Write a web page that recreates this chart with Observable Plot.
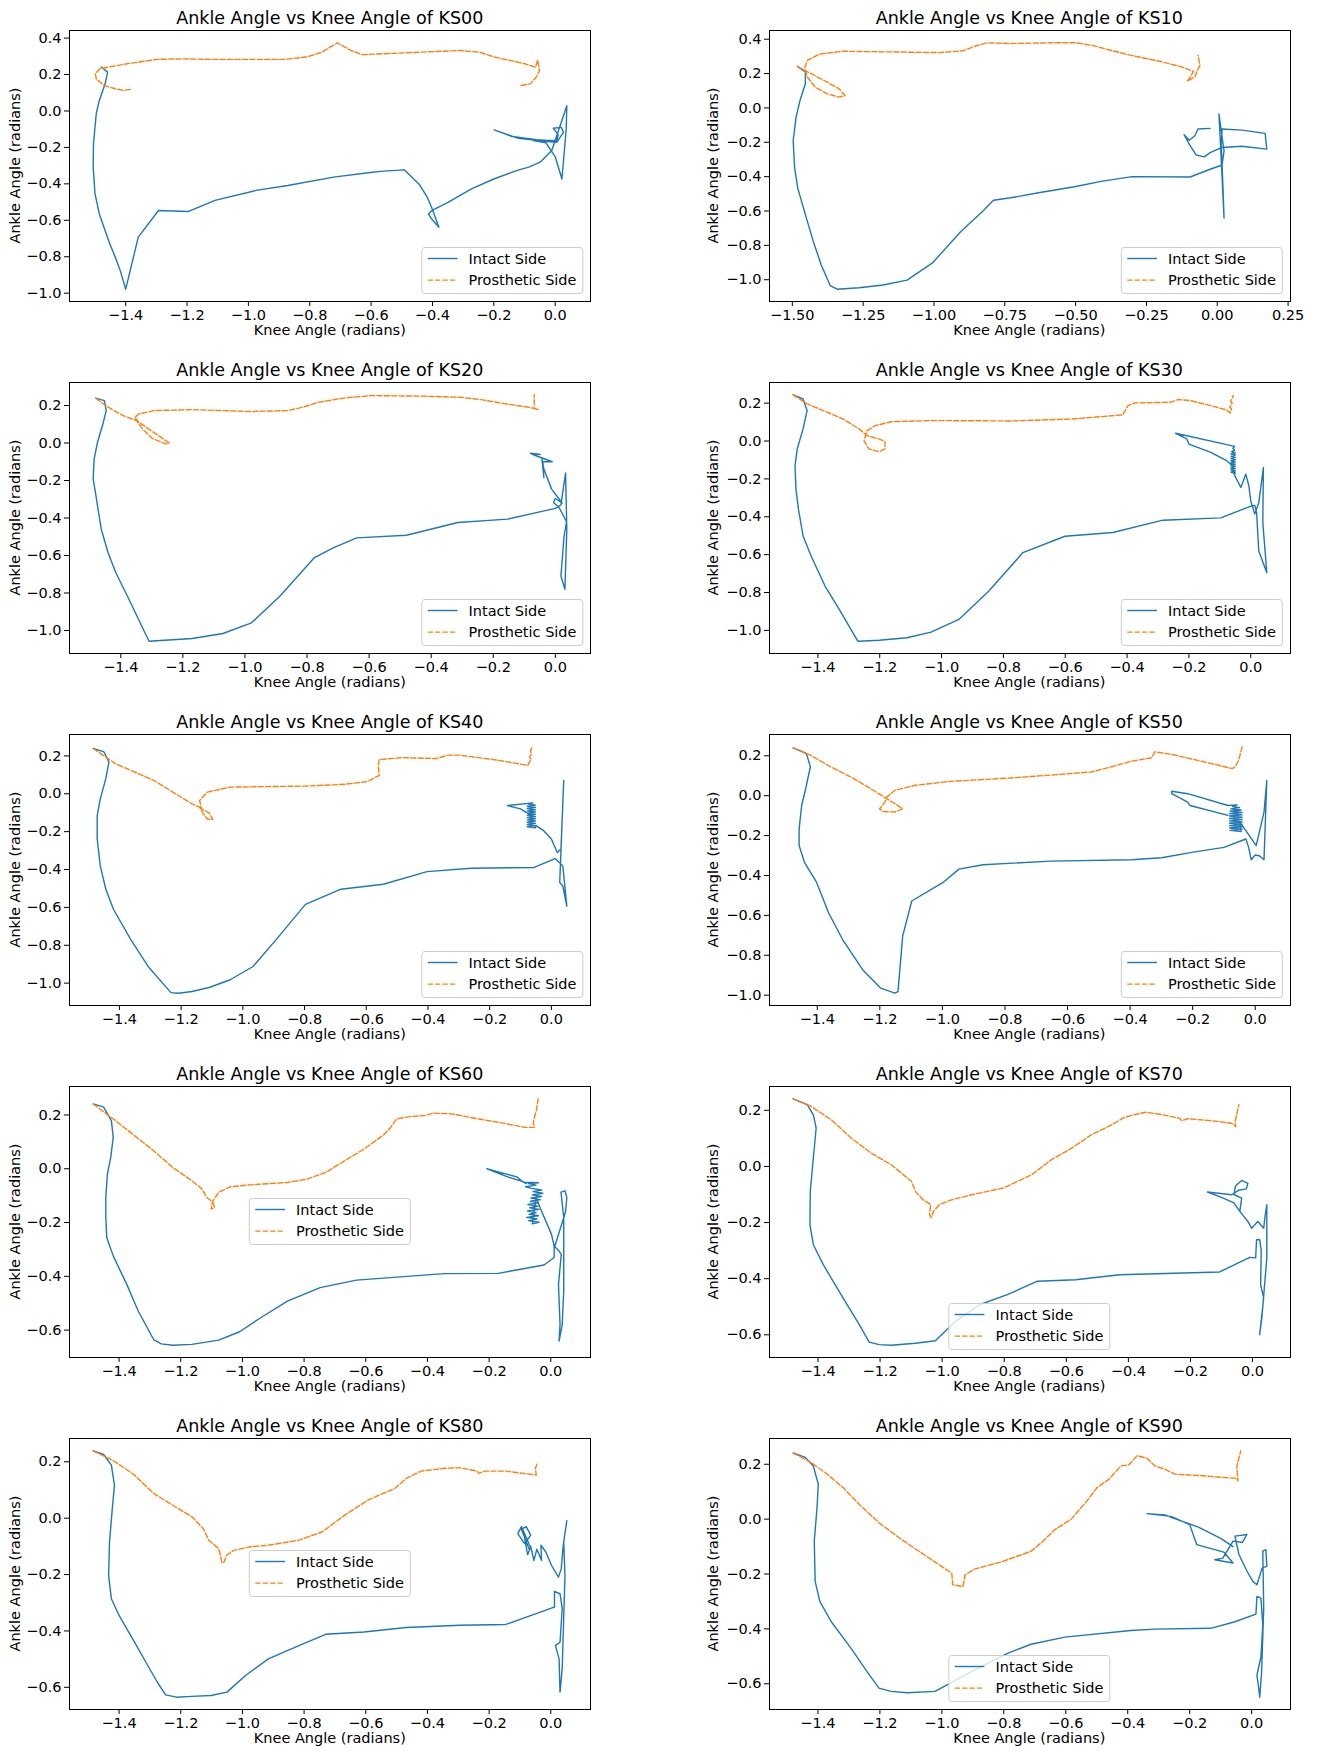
<!DOCTYPE html>
<html>
<head>
<meta charset="utf-8">
<script src="https://cdn.jsdelivr.net/npm/d3@7"></script>
<script src="https://cdn.jsdelivr.net/npm/@observablehq/plot@0.6"></script>
<style>
  html, body { margin: 0; padding: 0; background: #fff; }
  #page { position: relative; width: 1317px; height: 1751px; background: #fff; overflow: hidden; }
  #page > svg { position: absolute; }
</style>
</head>
<body>
<div id="page"></div>
<script>
// ---------------- data (knee angle, ankle angle) ----------------
const subjects = ["KS00","KS10","KS20","KS30","KS40","KS50","KS60","KS70","KS80","KS90"];
const seriesNames = ["Intact Side","Prosthetic Side"];
const xTicksA = [-1.4,-1.2,-1.0,-0.8,-0.6,-0.4,-0.2,0.0];
const xTicksB = [-1.5,-1.25,-1.0,-0.75,-0.5,-0.25,0.0,0.25];
const yTicksA = [-1.0,-0.8,-0.6,-0.4,-0.2,0.0,0.2,0.4];
const yTicksB = [-1.0,-0.8,-0.6,-0.4,-0.2,0.0,0.2];
const yTicksC = [-0.6,-0.4,-0.2,0.0,0.2];
const legendLocs = ["lr","lr","lr","lr","lr","lr","c","lc","c","lc"];

const ks00Intact = [[-1.480,0.241],[-1.459,0.213],[-1.467,0.149],[-1.486,0.058],[-1.496,-0.015],[-1.505,-0.180],[-1.506,-0.308],[-1.500,-0.455],[-1.486,-0.565],[-1.452,-0.729],[-1.434,-0.802],[-1.418,-0.875],[-1.400,-0.978],[-1.359,-0.692],[-1.293,-0.546],[-1.197,-0.552],[-1.109,-0.491],[-0.975,-0.436],[-0.872,-0.409],[-0.722,-0.363],[-0.610,-0.339],[-0.560,-0.330],[-0.492,-0.323],[-0.442,-0.405],[-0.417,-0.473],[-0.401,-0.537],[-0.379,-0.638],[-0.404,-0.590],[-0.413,-0.565],[-0.401,-0.545],[-0.348,-0.500],[-0.273,-0.427],[-0.198,-0.372],[-0.124,-0.326],[-0.086,-0.308],[-0.049,-0.281],[-0.011,-0.217],[0.038,0.029],[0.036,-0.100],[0.022,-0.373],[0.000,-0.250],[-0.030,-0.175],[-0.071,-0.163],[0.005,-0.172],[0.027,-0.117],[0.020,-0.090],[-0.006,-0.095],[0.010,-0.130],[0.005,-0.165],[-0.060,-0.158],[-0.140,-0.140],[-0.199,-0.104],[-0.120,-0.150],[-0.040,-0.165],[0.010,-0.160]];
const ks00Prosthetic = [[-0.111,0.140],[-0.080,0.150],[-0.060,0.190],[-0.051,0.222],[-0.057,0.280],[-0.064,0.240],[-0.099,0.259],[-0.198,0.296],[-0.248,0.323],[-0.311,0.332],[-0.435,0.323],[-0.560,0.314],[-0.629,0.309],[-0.666,0.332],[-0.710,0.374],[-0.760,0.323],[-0.810,0.296],[-0.885,0.283],[-0.997,0.283],[-1.109,0.283],[-1.222,0.286],[-1.297,0.283],[-1.396,0.259],[-1.484,0.232],[-1.499,0.204],[-1.496,0.177],[-1.471,0.140],[-1.434,0.122],[-1.409,0.113],[-1.378,0.120]];

const ks10Intact = [[-1.482,0.242],[-1.454,0.209],[-1.454,0.141],[-1.473,0.043],[-1.487,-0.055],[-1.497,-0.191],[-1.492,-0.348],[-1.481,-0.465],[-1.454,-0.621],[-1.426,-0.777],[-1.398,-0.914],[-1.366,-1.035],[-1.342,-1.055],[-1.264,-1.047],[-1.180,-1.031],[-1.095,-1.002],[-1.004,-0.900],[-0.905,-0.719],[-0.828,-0.602],[-0.790,-0.537],[-0.729,-0.523],[-0.631,-0.494],[-0.504,-0.459],[-0.405,-0.426],[-0.300,-0.400],[-0.096,-0.402],[-0.025,-0.357],[0.017,-0.332],[0.024,-0.250],[0.006,-0.035],[0.014,-0.300],[0.024,-0.641],[0.020,-0.450],[0.014,-0.211],[0.017,-0.123],[0.087,-0.129],[0.169,-0.148],[0.175,-0.240],[0.087,-0.223],[0.017,-0.230],[-0.025,-0.260],[-0.046,-0.285],[-0.075,-0.273],[-0.099,-0.211],[-0.117,-0.156],[-0.099,-0.188],[-0.079,-0.162],[-0.068,-0.123],[-0.025,-0.119]];
const ks10Prosthetic = [[-1.482,0.242],[-1.433,0.199],[-1.377,0.150],[-1.335,0.111],[-1.314,0.072],[-1.335,0.063],[-1.377,0.082],[-1.419,0.121],[-1.447,0.180],[-1.457,0.229],[-1.447,0.277],[-1.405,0.313],[-1.321,0.330],[-1.152,0.326],[-0.983,0.322],[-0.898,0.332],[-0.856,0.359],[-0.814,0.379],[-0.729,0.375],[-0.588,0.379],[-0.497,0.379],[-0.434,0.361],[-0.377,0.336],[-0.307,0.307],[-0.194,0.268],[-0.124,0.238],[-0.084,0.213],[-0.099,0.170],[-0.107,0.156],[-0.079,0.180],[-0.070,0.219],[-0.061,0.248],[-0.068,0.307]];

const ks20Intact = [[-1.481,0.239],[-1.453,0.226],[-1.447,0.173],[-1.459,0.093],[-1.475,0.004],[-1.486,-0.086],[-1.489,-0.193],[-1.480,-0.282],[-1.463,-0.460],[-1.441,-0.585],[-1.416,-0.692],[-1.379,-0.816],[-1.309,-1.057],[-1.170,-1.043],[-1.071,-1.016],[-0.979,-0.959],[-0.887,-0.816],[-0.776,-0.611],[-0.714,-0.558],[-0.640,-0.506],[-0.480,-0.492],[-0.314,-0.424],[-0.154,-0.406],[0.000,-0.349],[0.018,-0.330],[0.033,-0.160],[0.037,-0.460],[0.031,-0.780],[0.018,-0.709],[0.028,-0.500],[0.036,-0.420],[0.012,-0.344],[-0.006,-0.317],[0.000,-0.296],[0.022,-0.320],[-0.012,-0.246],[-0.037,-0.139],[-0.043,-0.086],[-0.037,-0.184],[-0.040,-0.100],[-0.010,-0.100],[-0.062,-0.068],[-0.080,-0.055],[-0.049,-0.061]];
const ks20Prosthetic = [[-1.481,0.239],[-1.441,0.191],[-1.392,0.146],[-1.349,0.119],[-1.330,0.075],[-1.299,0.025],[-1.256,-0.005],[-1.244,0.000],[-1.262,0.021],[-1.311,0.075],[-1.342,0.111],[-1.355,0.137],[-1.342,0.155],[-1.293,0.173],[-1.170,0.178],[-0.985,0.168],[-0.862,0.173],[-0.813,0.191],[-0.764,0.217],[-0.677,0.241],[-0.591,0.253],[-0.431,0.250],[-0.308,0.244],[-0.234,0.230],[-0.160,0.209],[-0.086,0.191],[-0.055,0.178],[-0.068,0.185],[-0.068,0.257]];

const ks30Intact = [[-1.480,0.244],[-1.448,0.222],[-1.435,0.161],[-1.448,0.064],[-1.467,-0.042],[-1.474,-0.131],[-1.471,-0.254],[-1.463,-0.360],[-1.448,-0.501],[-1.422,-0.607],[-1.377,-0.766],[-1.331,-0.889],[-1.271,-1.057],[-1.202,-1.052],[-1.112,-1.039],[-1.034,-1.009],[-0.944,-0.942],[-0.847,-0.792],[-0.737,-0.589],[-0.601,-0.503],[-0.446,-0.483],[-0.284,-0.418],[-0.097,-0.406],[-0.003,-0.346],[0.013,-0.340],[0.019,-0.378],[0.026,-0.581],[0.052,-0.695],[0.039,-0.431],[0.041,-0.139],[0.026,-0.325],[0.013,-0.386],[0.000,-0.316],[-0.006,-0.236],[-0.016,-0.175],[-0.032,-0.245],[-0.049,-0.192],[-0.062,-0.148],[-0.050,-0.170],[-0.064,-0.164],[-0.050,-0.158],[-0.064,-0.152],[-0.050,-0.146],[-0.064,-0.140],[-0.050,-0.134],[-0.064,-0.128],[-0.050,-0.122],[-0.064,-0.116],[-0.050,-0.110],[-0.064,-0.104],[-0.050,-0.098],[-0.064,-0.092],[-0.050,-0.086],[-0.064,-0.080],[-0.050,-0.074],[-0.064,-0.068],[-0.050,-0.062],[-0.062,-0.056],[-0.052,-0.048],[-0.058,-0.038],[-0.052,-0.028],[-0.243,0.041],[-0.207,0.011],[-0.200,-0.016],[-0.129,-0.060],[-0.078,-0.104],[-0.058,-0.131]];
const ks30Prosthetic = [[-1.480,0.244],[-1.435,0.196],[-1.383,0.161],[-1.318,0.116],[-1.267,0.064],[-1.241,0.028],[-1.202,0.011],[-1.183,-0.004],[-1.183,-0.042],[-1.202,-0.056],[-1.235,-0.042],[-1.251,0.002],[-1.241,0.055],[-1.215,0.081],[-1.163,0.102],[-1.034,0.108],[-0.776,0.106],[-0.582,0.116],[-0.414,0.138],[-0.397,0.187],[-0.375,0.201],[-0.259,0.205],[-0.235,0.219],[-0.194,0.213],[-0.129,0.187],[-0.078,0.164],[-0.067,0.148],[-0.062,0.170],[-0.068,0.180],[-0.060,0.200],[-0.065,0.210],[-0.056,0.240]];

const ks40Intact = [[-1.485,0.239],[-1.450,0.221],[-1.434,0.168],[-1.444,0.080],[-1.462,-0.027],[-1.472,-0.115],[-1.472,-0.239],[-1.462,-0.381],[-1.444,-0.504],[-1.419,-0.611],[-1.363,-0.770],[-1.307,-0.912],[-1.233,-1.050],[-1.208,-1.053],[-1.165,-1.044],[-1.109,-1.023],[-1.041,-0.982],[-0.967,-0.912],[-0.892,-0.770],[-0.797,-0.584],[-0.682,-0.504],[-0.545,-0.478],[-0.403,-0.411],[-0.260,-0.393],[-0.056,-0.389],[0.012,-0.342],[0.037,-0.381],[0.050,-0.593],[0.037,-0.487],[0.027,-0.469],[0.040,0.071],[0.031,-0.292],[0.019,-0.310],[0.000,-0.239],[-0.025,-0.195],[-0.050,-0.168],[-0.052,-0.180],[-0.078,-0.174],[-0.052,-0.168],[-0.078,-0.162],[-0.052,-0.156],[-0.078,-0.150],[-0.052,-0.144],[-0.078,-0.138],[-0.052,-0.132],[-0.078,-0.126],[-0.052,-0.120],[-0.078,-0.114],[-0.052,-0.108],[-0.078,-0.102],[-0.052,-0.096],[-0.078,-0.090],[-0.052,-0.084],[-0.078,-0.078],[-0.052,-0.072],[-0.078,-0.066],[-0.052,-0.060],[-0.074,-0.054],[-0.060,-0.048],[-0.143,-0.062],[-0.100,-0.080],[-0.070,-0.110]];
const ks40Prosthetic = [[-1.485,0.239],[-1.413,0.159],[-1.351,0.115],[-1.289,0.071],[-1.227,0.009],[-1.165,-0.053],[-1.140,-0.071],[-1.128,-0.106],[-1.115,-0.133],[-1.097,-0.136],[-1.109,-0.101],[-1.134,-0.080],[-1.140,-0.035],[-1.115,0.009],[-1.041,0.035],[-0.793,0.041],[-0.669,0.050],[-0.595,0.065],[-0.558,0.097],[-0.561,0.150],[-0.558,0.181],[-0.483,0.191],[-0.372,0.186],[-0.335,0.204],[-0.297,0.204],[-0.173,0.177],[-0.077,0.150],[-0.070,0.170],[-0.066,0.180],[-0.071,0.195],[-0.064,0.210],[-0.068,0.225],[-0.062,0.248]];

const ks50Intact = [[-1.477,0.240],[-1.435,0.212],[-1.422,0.145],[-1.437,0.035],[-1.450,-0.049],[-1.458,-0.166],[-1.458,-0.250],[-1.441,-0.334],[-1.402,-0.435],[-1.364,-0.587],[-1.319,-0.721],[-1.255,-0.872],[-1.197,-0.965],[-1.152,-0.990],[-1.142,-0.982],[-1.127,-0.704],[-1.098,-0.528],[-0.998,-0.435],[-0.947,-0.368],[-0.870,-0.346],[-0.652,-0.328],[-0.395,-0.321],[-0.299,-0.311],[-0.203,-0.284],[-0.100,-0.259],[-0.030,-0.217],[-0.021,-0.259],[-0.013,-0.321],[0.000,-0.297],[0.013,-0.301],[0.028,-0.321],[0.037,0.077],[0.028,-0.082],[0.003,-0.250],[-0.030,-0.175],[-0.049,-0.133],[-0.045,-0.180],[-0.080,-0.174],[-0.042,-0.168],[-0.082,-0.162],[-0.042,-0.156],[-0.082,-0.150],[-0.042,-0.144],[-0.082,-0.138],[-0.042,-0.132],[-0.082,-0.126],[-0.042,-0.120],[-0.082,-0.114],[-0.042,-0.108],[-0.082,-0.102],[-0.042,-0.096],[-0.082,-0.090],[-0.042,-0.084],[-0.080,-0.078],[-0.045,-0.072],[-0.078,-0.066],[-0.050,-0.060],[-0.072,-0.054],[-0.058,-0.046],[-0.087,-0.049],[-0.216,0.010],[-0.267,0.022],[-0.267,0.010],[-0.216,-0.032],[-0.209,-0.049],[-0.087,-0.099]];
const ks50Prosthetic = [[-1.477,0.240],[-1.422,0.203],[-1.357,0.145],[-1.293,0.094],[-1.229,0.035],[-1.178,-0.015],[-1.152,-0.040],[-1.127,-0.066],[-1.152,-0.082],[-1.190,-0.079],[-1.201,-0.066],[-1.184,-0.032],[-1.178,-0.007],[-1.152,0.027],[-1.088,0.052],[-0.973,0.072],[-0.780,0.089],[-0.588,0.111],[-0.524,0.119],[-0.459,0.145],[-0.395,0.173],[-0.331,0.190],[-0.321,0.220],[-0.267,0.207],[-0.164,0.170],[-0.074,0.136],[-0.064,0.145],[-0.055,0.170],[-0.050,0.195],[-0.046,0.220],[-0.042,0.245]];

const ks60Intact = [[-1.484,0.241],[-1.450,0.229],[-1.425,0.179],[-1.419,0.117],[-1.427,0.042],[-1.438,-0.020],[-1.443,-0.107],[-1.443,-0.181],[-1.440,-0.256],[-1.419,-0.324],[-1.375,-0.430],[-1.338,-0.529],[-1.288,-0.635],[-1.263,-0.651],[-1.226,-0.656],[-1.164,-0.653],[-1.077,-0.637],[-1.009,-0.606],[-0.941,-0.554],[-0.854,-0.492],[-0.748,-0.442],[-0.630,-0.414],[-0.345,-0.390],[-0.171,-0.389],[-0.022,-0.358],[0.011,-0.330],[0.011,-0.287],[0.027,-0.306],[0.034,-0.318],[0.025,-0.430],[0.030,-0.579],[0.027,-0.641],[0.037,-0.580],[0.042,-0.455],[0.042,-0.181],[0.033,-0.087],[0.046,-0.082],[0.052,-0.107],[0.048,-0.160],[0.012,-0.292],[0.002,-0.243],[-0.035,-0.144],[-0.047,-0.107],[-0.060,-0.205],[-0.038,-0.199],[-0.072,-0.193],[-0.045,-0.187],[-0.078,-0.181],[-0.040,-0.175],[-0.070,-0.169],[-0.048,-0.163],[-0.075,-0.157],[-0.038,-0.151],[-0.068,-0.145],[-0.042,-0.139],[-0.074,-0.133],[-0.040,-0.127],[-0.066,-0.121],[-0.034,-0.115],[-0.064,-0.109],[-0.030,-0.103],[-0.060,-0.097],[-0.026,-0.091],[-0.058,-0.085],[-0.030,-0.079],[-0.062,-0.073],[-0.082,-0.067],[-0.048,-0.061],[-0.072,-0.055],[-0.040,-0.052],[-0.085,-0.050],[-0.140,-0.030],[-0.207,0.000],[-0.150,-0.018],[-0.110,-0.030],[-0.095,-0.045],[-0.080,-0.055]];
const ks60Prosthetic = [[-1.484,0.241],[-1.412,0.179],[-1.350,0.123],[-1.288,0.067],[-1.226,0.005],[-1.164,-0.045],[-1.133,-0.073],[-1.115,-0.107],[-1.096,-0.125],[-1.090,-0.144],[-1.102,-0.150],[-1.096,-0.120],[-1.077,-0.088],[-1.040,-0.067],[-0.978,-0.060],[-0.854,-0.051],[-0.792,-0.039],[-0.730,-0.014],[-0.668,0.030],[-0.606,0.073],[-0.543,0.125],[-0.519,0.154],[-0.500,0.185],[-0.457,0.194],[-0.407,0.198],[-0.382,0.207],[-0.320,0.204],[-0.233,0.185],[-0.171,0.173],[-0.084,0.154],[-0.053,0.154],[-0.057,0.173],[-0.047,0.216],[-0.041,0.260]];

const ks70Intact = [[-1.480,0.241],[-1.435,0.220],[-1.415,0.184],[-1.406,0.137],[-1.415,0.030],[-1.425,-0.089],[-1.426,-0.208],[-1.415,-0.279],[-1.383,-0.350],[-1.319,-0.469],[-1.267,-0.564],[-1.235,-0.626],[-1.203,-0.635],[-1.164,-0.637],[-1.086,-0.630],[-1.022,-0.621],[-0.957,-0.552],[-0.880,-0.493],[-0.790,-0.457],[-0.693,-0.409],[-0.570,-0.404],[-0.428,-0.386],[-0.106,-0.376],[-0.009,-0.324],[0.010,-0.326],[0.013,-0.261],[0.023,-0.261],[0.028,-0.300],[0.026,-0.421],[0.036,-0.469],[0.023,-0.599],[0.030,-0.540],[0.046,-0.326],[0.046,-0.136],[0.040,-0.180],[0.036,-0.220],[0.017,-0.196],[-0.003,-0.220],[-0.015,-0.196],[-0.041,-0.160],[-0.035,-0.113],[-0.060,-0.100],[-0.055,-0.070],[-0.035,-0.050],[-0.015,-0.060],[-0.020,-0.080],[-0.045,-0.085],[-0.067,-0.101],[-0.145,-0.091],[-0.100,-0.110],[-0.060,-0.130],[-0.041,-0.160]];
const ks70Prosthetic = [[-1.480,0.241],[-1.422,0.214],[-1.357,0.166],[-1.293,0.101],[-1.228,0.047],[-1.164,0.006],[-1.099,-0.053],[-1.086,-0.089],[-1.061,-0.119],[-1.037,-0.136],[-1.041,-0.172],[-1.035,-0.182],[-1.028,-0.160],[-1.009,-0.136],[-0.970,-0.119],[-0.906,-0.101],[-0.803,-0.077],[-0.712,-0.030],[-0.648,0.024],[-0.583,0.065],[-0.519,0.113],[-0.454,0.148],[-0.415,0.174],[-0.390,0.182],[-0.345,0.193],[-0.299,0.186],[-0.235,0.172],[-0.228,0.163],[-0.209,0.170],[-0.132,0.163],[-0.067,0.154],[-0.054,0.142],[-0.056,0.160],[-0.044,0.220]];

const ks80Intact = [[-1.484,0.239],[-1.450,0.226],[-1.425,0.188],[-1.415,0.117],[-1.422,0.034],[-1.431,-0.084],[-1.434,-0.203],[-1.425,-0.286],[-1.400,-0.345],[-1.350,-0.440],[-1.313,-0.511],[-1.276,-0.582],[-1.249,-0.627],[-1.214,-0.635],[-1.164,-0.632],[-1.102,-0.629],[-1.050,-0.617],[-0.990,-0.558],[-0.916,-0.499],[-0.817,-0.452],[-0.730,-0.412],[-0.606,-0.404],[-0.469,-0.388],[-0.295,-0.380],[-0.146,-0.377],[0.002,-0.319],[0.012,-0.315],[0.012,-0.260],[0.030,-0.268],[0.037,-0.321],[0.030,-0.440],[0.015,-0.452],[0.027,-0.499],[0.030,-0.617],[0.037,-0.535],[0.046,-0.203],[0.042,-0.084],[0.052,-0.009],[0.040,-0.100],[0.034,-0.179],[0.025,-0.209],[0.002,-0.167],[-0.016,-0.120],[-0.032,-0.096],[-0.030,-0.150],[-0.045,-0.110],[-0.055,-0.150],[-0.065,-0.100],[-0.075,-0.130],[-0.085,-0.070],[-0.070,-0.110],[-0.095,-0.040],[-0.080,-0.030],[-0.065,-0.060],[-0.085,-0.090],[-0.107,-0.055],[-0.095,-0.030],[-0.075,-0.080],[-0.060,-0.120]];
const ks80Prosthetic = [[-1.484,0.239],[-1.412,0.200],[-1.350,0.153],[-1.288,0.088],[-1.226,0.046],[-1.164,0.005],[-1.127,-0.037],[-1.109,-0.078],[-1.077,-0.108],[-1.071,-0.132],[-1.067,-0.158],[-1.059,-0.155],[-1.052,-0.132],[-1.028,-0.114],[-0.978,-0.102],[-0.916,-0.096],[-0.817,-0.078],[-0.742,-0.049],[-0.668,0.011],[-0.593,0.064],[-0.544,0.088],[-0.506,0.105],[-0.469,0.141],[-0.420,0.167],[-0.345,0.177],[-0.295,0.179],[-0.239,0.167],[-0.233,0.159],[-0.214,0.167],[-0.146,0.167],[-0.047,0.153],[-0.050,0.177],[-0.043,0.197]];

const ks90Intact = [[-1.480,0.241],[-1.441,0.225],[-1.415,0.194],[-1.399,0.127],[-1.403,0.042],[-1.412,-0.081],[-1.409,-0.227],[-1.394,-0.300],[-1.357,-0.374],[-1.293,-0.471],[-1.241,-0.557],[-1.203,-0.616],[-1.164,-0.628],[-1.112,-0.633],[-1.022,-0.628],[-0.906,-0.557],[-0.790,-0.490],[-0.712,-0.456],[-0.603,-0.430],[-0.390,-0.406],[-0.312,-0.401],[-0.132,-0.398],[-0.054,-0.374],[0.014,-0.346],[0.017,-0.282],[0.030,-0.288],[0.036,-0.386],[0.030,-0.502],[0.017,-0.569],[0.023,-0.618],[0.026,-0.649],[0.032,-0.560],[0.039,-0.325],[0.036,-0.117],[0.046,-0.111],[0.049,-0.172],[0.034,-0.178],[0.017,-0.239],[0.004,-0.227],[-0.015,-0.190],[-0.041,-0.129],[-0.054,-0.062],[-0.015,-0.056],[-0.030,-0.085],[-0.060,-0.080],[-0.093,-0.142],[-0.119,-0.148],[-0.060,-0.160],[-0.090,-0.120],[-0.177,-0.093],[-0.200,-0.020],[-0.260,0.010],[-0.338,0.020],[-0.280,0.015],[-0.170,-0.030],[-0.100,-0.070],[-0.060,-0.100]];
const ks90Prosthetic = [[-1.480,0.241],[-1.422,0.206],[-1.370,0.164],[-1.319,0.115],[-1.267,0.054],[-1.203,-0.013],[-1.138,-0.068],[-1.074,-0.117],[-1.009,-0.166],[-0.968,-0.197],[-0.965,-0.239],[-0.932,-0.246],[-0.925,-0.203],[-0.894,-0.182],[-0.803,-0.154],[-0.712,-0.117],[-0.674,-0.081],[-0.635,-0.038],[-0.583,-0.001],[-0.532,0.066],[-0.499,0.115],[-0.461,0.145],[-0.422,0.194],[-0.396,0.198],[-0.370,0.231],[-0.338,0.222],[-0.312,0.194],[-0.280,0.182],[-0.248,0.164],[-0.157,0.158],[-0.080,0.151],[-0.048,0.149],[-0.044,0.139],[-0.048,0.194],[-0.035,0.249]];

// ---------------- assembly ----------------
const intactList = [ks00Intact, ks10Intact, ks20Intact, ks30Intact, ks40Intact, ks50Intact, ks60Intact, ks70Intact, ks80Intact, ks90Intact];
const prostheticList = [ks00Prosthetic, ks10Prosthetic, ks20Prosthetic, ks30Prosthetic, ks40Prosthetic, ks50Prosthetic, ks60Prosthetic, ks70Prosthetic, ks80Prosthetic, ks90Prosthetic];
const xTickSets = [xTicksA, xTicksB, xTicksA, xTicksA, xTicksA, xTicksA, xTicksA, xTicksA, xTicksA, xTicksA];
const xDecimals = [1, 2, 1, 1, 1, 1, 1, 1, 1, 1];
const yTickSets = [yTicksA, yTicksA, yTicksB, yTicksB, yTicksB, yTicksB, yTicksC, yTicksC, yTicksC, yTicksC];

const BLUE = "#1f77b4", ORANGE = "#ff7f0e";
const FONT = "DejaVu Sans, sans-serif";
const TICK_FS = 14.5, LABEL_FS = 14.5, TITLE_FS = 17.5;
const AX_W = 521, AX_H = 271;
const ML = 60, MR = 10, MT = 10, MB = 30;
const colLeft = [69.3, 768.8];
const rowTop = r => 30 + 352 * r;
const fmt = dec => d => (d < 0 ? "\u2212" : "") + Math.abs(d).toFixed(dec);
const pad = e => { const s = e[1] - e[0]; return [e[0] - 0.05 * s, e[1] + 0.05 * s]; };

const page = document.getElementById("page");

subjects.forEach((name, i) => {
  const col = i % 2, row = Math.floor(i / 2);
  const axL = colLeft[col], axT = rowTop(row);
  const intact = intactList[i], prosthetic = prostheticList[i];
  const all = intact.concat(prosthetic);
  const chart = Plot.plot({
    width: ML + AX_W + MR,
    height: MT + AX_H + MB,
    marginLeft: ML, marginRight: MR, marginTop: MT, marginBottom: MB,
    style: { fontFamily: FONT, fontSize: TICK_FS + "px", color: "black", background: "transparent", overflow: "visible" },
    x: { domain: pad(d3.extent(all, d => d[0])) },
    y: { domain: pad(d3.extent(all, d => d[1])) },
    marks: [
      Plot.axisX({ ticks: xTickSets[i], tickFormat: fmt(xDecimals[i]), tickSize: 5, tickPadding: 3, fontSize: TICK_FS, label: null }),
      Plot.axisY({ ticks: yTickSets[i], tickFormat: fmt(1), tickSize: 5, tickPadding: 3, fontSize: TICK_FS, label: null }),
      Plot.line(intact, { x: d => d[0], y: d => d[1], stroke: BLUE, strokeWidth: 1.4 }),
      Plot.line(prosthetic, { x: d => d[0], y: d => d[1], stroke: ORANGE, strokeWidth: 1.4, strokeDasharray: "5.2,2.2" }),
      Plot.frame({ stroke: "black", strokeWidth: 1 })
    ]
  });
  chart.style.position = "absolute";
  chart.style.left = (axL - ML) + "px";
  chart.style.top = (axT - MT) + "px";
  chart.style.maxWidth = "none";
  page.appendChild(chart);
});

// ---------------- overlay: titles, axis labels, legends ----------------
const ov = d3.select(page).append("svg")
  .attr("width", 1317).attr("height", 1751)
  .style("left", "0px").style("top", "0px")
  .style("font-family", FONT).style("pointer-events", "none");

const LW = 161, LH = 46;
subjects.forEach((name, i) => {
  const col = i % 2, row = Math.floor(i / 2);
  const axL = colLeft[col], axT = rowTop(row);
  const cx = axL + AX_W / 2, cy = axT + AX_H / 2;
  ov.append("text").attr("x", cx).attr("y", axT - 6).attr("text-anchor", "middle")
    .attr("font-size", TITLE_FS).text("Ankle Angle vs Knee Angle of " + name);
  ov.append("text").attr("x", cx).attr("y", axT + AX_H + 34).attr("text-anchor", "middle")
    .attr("font-size", LABEL_FS).text("Knee Angle (radians)");
  const yx = col === 0 ? 19.5 : 718;
  ov.append("text").attr("transform", `translate(${yx},${cy}) rotate(-90)`).attr("text-anchor", "middle")
    .attr("font-size", LABEL_FS).text("Ankle Angle (radians)");

  // legend box
  const loc = legendLocs[i];
  let lx, ly;
  if (loc === "lr") { lx = axL + AX_W - 7.5 - LW; ly = axT + AX_H - 7.5 - LH; }
  else if (loc === "c") { lx = cx - LW / 2; ly = cy - LH / 2; }
  else { lx = cx - LW / 2; ly = axT + AX_H - 7.5 - LH; }
  const g = ov.append("g").attr("transform", `translate(${lx},${ly})`);
  g.append("rect").attr("x", 0).attr("y", 0).attr("width", LW).attr("height", LH).attr("rx", 3)
    .attr("fill", "white").attr("fill-opacity", 0.8).attr("stroke", "#cccccc").attr("stroke-width", 1);
  [BLUE, ORANGE].forEach((c, k) => {
    const yy = 11 + k * 21.6;
    g.append("line").attr("x1", 6).attr("x2", 35.6).attr("y1", yy).attr("y2", yy)
      .attr("stroke", c).attr("stroke-width", 1.4).attr("stroke-dasharray", k ? "5.2,2.2" : null);
    g.append("text").attr("x", 46.7).attr("y", yy + 5.2).attr("font-size", LABEL_FS).text(seriesNames[k]);
  });
});
</script>
</body>
</html>
